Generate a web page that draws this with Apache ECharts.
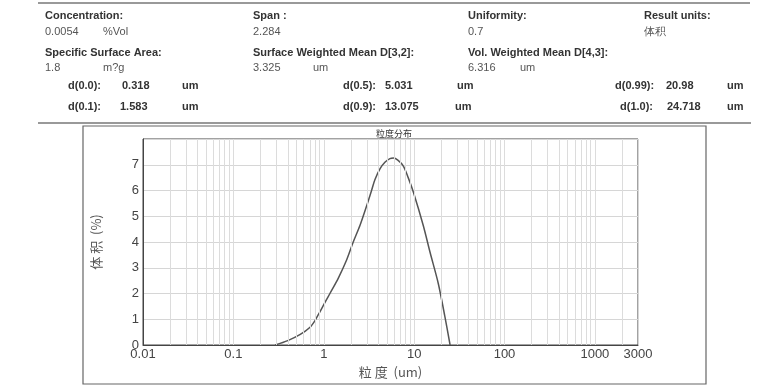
<!DOCTYPE html>
<html><head><meta charset="utf-8">
<script src="https://cdn.jsdelivr.net/npm/echarts@6/dist/echarts.min.js"></script>
<style>html,body{margin:0;padding:0;background:#fff}#c{width:783px;height:386px}</style>
</head><body><div id="c"></div>
<script>
// particle size (um) and volume (%)
var sizes = [0.29, 0.4, 0.55, 0.7, 0.8, 0.91, 1.05, 1.17, 1.45, 1.79, 2.12, 2.52, 2.98, 3.38, 3.68, 4.2, 4.75, 5.4, 5.9, 6.6, 7.6, 8.6, 9.8, 12.6, 15.0, 18.5, 21.9, 25.0];
var volumes = [0, 0.17, 0.41, 0.68, 0.95, 1.3, 1.7, 2.0, 2.6, 3.3, 4.0, 4.65, 5.4, 6.0, 6.42, 6.85, 7.1, 7.24, 7.26, 7.18, 6.95, 6.5, 5.94, 4.65, 3.6, 2.39, 1.1, 0];
var xTickLabels = ['0.01', '0.1', '1', '10', '100', '1000', '3000'];
var yTickLabels = ['0', '1', '2', '3', '4', '5', '6', '7'];

var summaryRows = [
  {label: 'Concentration:', value: '0.0054', unit: '%Vol'},
  {label: 'Span :', value: '2.284', unit: ''},
  {label: 'Uniformity:', value: '0.7', unit: ''},
  {label: 'Result units:', value: '体积', unit: ''},
  {label: 'Specific Surface Area:', value: '1.8', unit: 'm?g'},
  {label: 'Surface Weighted Mean D[3,2]:', value: '3.325', unit: 'um'},
  {label: 'Vol. Weighted Mean D[4,3]:', value: '6.316', unit: 'um'}
];
var dRows = [
  {label: 'd(0.0):', value: '0.318', unit: 'um'},
  {label: 'd(0.1):', value: '1.583', unit: 'um'},
  {label: 'd(0.5):', value: '5.031', unit: 'um'},
  {label: 'd(0.9):', value: '13.075', unit: 'um'},
  {label: 'd(0.99):', value: '20.98', unit: 'um'},
  {label: 'd(1.0):', value: '24.718', unit: 'um'}
];

var data = sizes.map(function (s, i) { return [s, volumes[i]]; });

// minor log grid lines (2..9 in each decade)
var minorX = [];
for (var e = -2; e <= 3; e++) {
  for (var m = 1; m <= 9; m++) {
    var v = m * Math.pow(10, e);
    if (v > 0.01 && v < 3000) minorX.push({xAxis: v});
  }
}

var FONT = '"Liberation Sans", Arial, sans-serif';
var g = [];
function txt(x, y, t, bold, color) {
  g.push({type: 'text', x: x, y: y, style: {text: t, fill: color || (bold ? '#333' : '#555'),
    font: (bold ? 'bold ' : '') + '11px ' + FONT, textVerticalAlign: 'middle'}});
}
var colX = [45, 253, 468, 644];
for (var i = 0; i < 4; i++) {
  txt(colX[i], 16, summaryRows[i].label, true);
  txt(colX[i], 32, summaryRows[i].value, false);
  if (summaryRows[i].unit) txt(103, 32, summaryRows[i].unit, false);
}
var col2X = [45, 253, 468];
var unit2X = [103, 313, 520];
for (var i = 0; i < 3; i++) {
  txt(col2X[i], 53, summaryRows[4 + i].label, true);
  txt(col2X[i], 68, summaryRows[4 + i].value, false);
  txt(unit2X[i], 68, summaryRows[4 + i].unit, false);
}
var dPos = [
  [68, 122, 182, 86], [68, 120, 182, 107],
  [343, 385, 457, 86], [343, 385, 455, 107],
  [615, 666, 727, 86], [620, 667, 727, 107]
];
dRows.forEach(function (r, i) {
  var p = dPos[i];
  txt(p[0], p[3], r.label, true);
  txt(p[1], p[3], r.value, true);
  txt(p[2], p[3], r.unit, true);
});
g.push({type: 'line', shape: {x1: 38, y1: 3, x2: 750, y2: 3}, style: {stroke: '#777', lineWidth: 1.5}});
g.push({type: 'line', shape: {x1: 38, y1: 123, x2: 751, y2: 123}, style: {stroke: '#777', lineWidth: 1.5}});
g.push({type: 'rect', shape: {x: 83, y: 126, width: 623, height: 258}, style: {fill: 'none', stroke: '#666', lineWidth: 1.2}});
g.push({type: 'text', x: 394, y: 134, style: {text: '粒度分布', fill: '#333', font: '9px "Noto Sans CJK SC"', textAlign: 'center', textVerticalAlign: 'middle'}});

var chart = echarts.init(document.getElementById('c'));
chart.setOption({
  animation: false,
  backgroundColor: '#fff',
  graphic: g,
  grid: {left: 143, right: 145, top: 139, bottom: 41, show: true, borderColor: '#444', borderWidth: 1},
  xAxis: {
    type: 'log', logBase: 10, min: 0.01, max: 3000,
    name: '粒 度  (um)', nameLocation: 'middle', nameGap: 21,
    nameTextStyle: {color: '#555', fontSize: 13, fontFamily: '"Noto Sans CJK SC"'},
    axisLine: {show: true, lineStyle: {color: '#444'}},
    axisTick: {show: false},
    axisLabel: {color: '#444', fontSize: 13, fontFamily: FONT, margin: 3, showMaxLabel: true, showMinLabel: true,
      formatter: function (v) {
        var s = String(Number(v.toPrecision(6)));
        return xTickLabels.indexOf(s) >= 0 ? s : '';
      }},
    splitLine: {show: true, lineStyle: {color: '#d6d6d6', width: 1}}
  },
  yAxis: {
    type: 'value', min: 0, max: 8, interval: 1,
    name: '体 积  (%)', nameLocation: 'middle', nameGap: 40, nameRotate: 90,
    nameTextStyle: {color: '#555', fontSize: 13, fontFamily: '"Noto Sans CJK SC"'},
    axisLine: {show: true, lineStyle: {color: '#444'}},
    axisTick: {show: false},
    axisLabel: {color: '#444', fontSize: 13, fontFamily: FONT, margin: 4,
      formatter: function (v) { var s = String(v); return yTickLabels.indexOf(s) >= 0 ? s : ''; }},
    splitLine: {show: true, lineStyle: {color: '#d6d6d6', width: 1}}
  },
  series: [
    {type: 'line', data: [], z: 1, silent: true,
      markLine: {silent: true, symbol: 'none', label: {show: false}, animation: false,
        lineStyle: {color: '#dcdcdc', width: 1, type: 'solid'}, data: minorX}},
    {type: 'line', data: data, z: 3, smooth: 0.3, showSymbol: false,
      lineStyle: {color: '#555', width: 1.5}, itemStyle: {color: '#555'}}
  ]
});
</script></body></html>
